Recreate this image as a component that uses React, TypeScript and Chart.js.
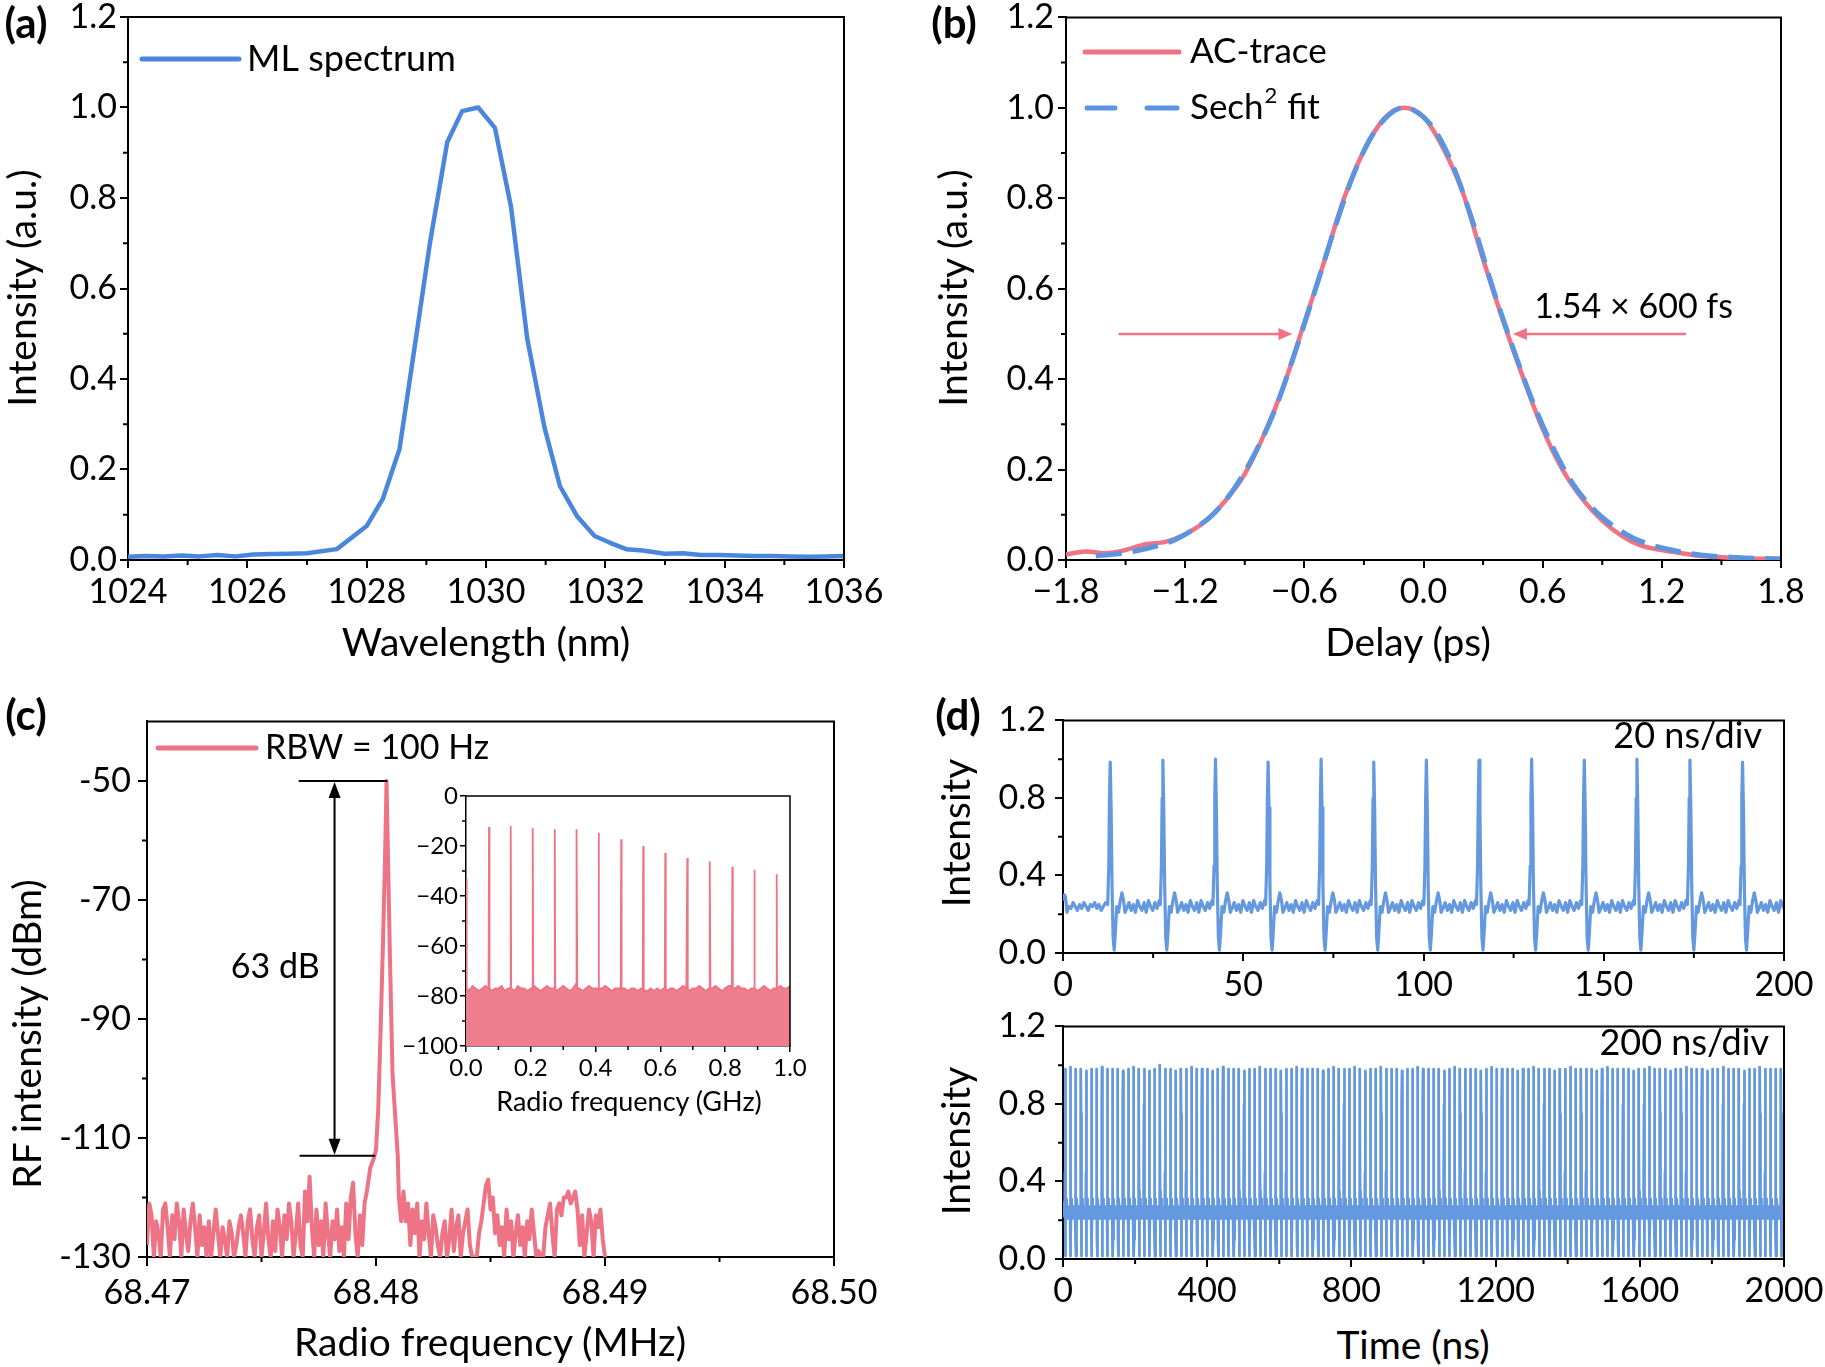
import React, { useEffect, useRef } from 'react';
import { Chart, registerables } from 'chart.js';

Chart.register(...registerables);

const FONT = 'Lato, "Noto Sans", sans-serif';
const BLUE = '#4a87dc';
const BLUE_FIT = '#5b94e0';
const BLUE_TRACE = '#6499df';
const PINK = '#ee7384';
const PINK_FILL = '#ef7e8e';

// ---------- (a) mode-locked optical spectrum ----------
const SPEC_WAVELENGTH = [
  1024, 1024.3, 1024.6, 1024.9, 1025.2, 1025.5, 1025.8, 1026.1, 1026.4, 1026.7, 1027.0, 1027.5,
  1028.0, 1028.27, 1028.55, 1028.77, 1029.06, 1029.35, 1029.6, 1029.87, 1030.15, 1030.42, 1030.69,
  1030.98, 1031.24, 1031.53, 1031.82, 1032.08, 1032.35, 1032.63, 1033.0, 1033.3, 1033.6, 1033.9,
  1034.2, 1034.5, 1034.8, 1035.1, 1035.4, 1035.7, 1036,
];
const SPEC_INTENSITY = [
  0.007, 0.009, 0.008, 0.01, 0.008, 0.011, 0.008, 0.012, 0.013, 0.014, 0.015, 0.024,
  0.075, 0.135, 0.245, 0.44, 0.7, 0.923, 0.992, 1.0, 0.955, 0.78, 0.49,
  0.293, 0.163, 0.096, 0.053, 0.038, 0.024, 0.021, 0.014, 0.015, 0.011, 0.011,
  0.01, 0.009, 0.009, 0.008, 0.007, 0.008, 0.009,
];
const SPEC_X_TICKS = [1024, 1026, 1028, 1030, 1032, 1034, 1036];
const SPEC_X_MINOR = [1025, 1027, 1029, 1031, 1033, 1035];
const UNIT_Y_TICKS = [0, 0.2, 0.4, 0.6, 0.8, 1.0, 1.2];
const UNIT_Y_MINOR = [0.1, 0.3, 0.5, 0.7, 0.9, 1.1];

// ---------- (b) autocorrelation trace and sech^2 fit ----------
const AC_DELAY = [
  -1.8, -1.7, -1.6, -1.5, -1.4, -1.3, -1.2, -1.1, -1.0, -0.9, -0.8, -0.7, -0.6, -0.5, -0.4, -0.3, -0.2, -0.1,
  0, 0.1, 0.2, 0.3, 0.4, 0.5, 0.6, 0.7, 0.8, 0.9, 1.0, 1.1, 1.2, 1.3, 1.4, 1.5, 1.6, 1.7, 1.8,
];
const AC_INTENSITY = [
  0.012, 0.019, 0.015, 0.022, 0.035, 0.04, 0.057, 0.085, 0.13, 0.19, 0.28, 0.39, 0.525, 0.66, 0.8, 0.905, 0.975, 1.0,
  0.98, 0.91, 0.81, 0.665, 0.53, 0.405, 0.29, 0.2, 0.135, 0.087, 0.053, 0.031, 0.022, 0.015, 0.009, 0.006, 0.004, 0.003, 0.003,
];
const FIT_DELAY = [
  -1.65, -1.55, -1.45, -1.35, -1.25, -1.15, -1.05, -0.95, -0.85, -0.75, -0.65, -0.55, -0.45, -0.35, -0.25, -0.15, -0.1,
  -0.05, 0.05, 0.15, 0.25, 0.35, 0.45, 0.55, 0.65, 0.75, 0.85, 0.95, 1.05, 1.15, 1.25, 1.35, 1.45, 1.55, 1.65, 1.75, 1.8,
];
const FIT_INTENSITY = [
  0.009, 0.013, 0.02, 0.03, 0.045, 0.07, 0.105, 0.16, 0.235, 0.33, 0.455, 0.59, 0.73, 0.855, 0.945, 0.993, 1.0,
  0.995, 0.955, 0.87, 0.745, 0.6, 0.47, 0.35, 0.25, 0.17, 0.115, 0.077, 0.05, 0.033, 0.022, 0.014, 0.009, 0.006, 0.004, 0.003, 0.002,
];
const DELAY_TICKS = [-1.8, -1.2, -0.6, 0, 0.6, 1.2, 1.8];
const DELAY_MINOR = [-1.5, -0.9, -0.3, 0.3, 0.9, 1.5];
const FWHM_LEVEL = 0.5;
const FWHM_ARROW_LEFT = [-1.53, -0.66]; // tail, tip
const FWHM_ARROW_RIGHT = [1.317, 0.45]; // tail, tip
const FWHM_TEXT_AT = [0.557, 0.56];

// ---------- (c) RF spectrum of the fundamental ----------
const RF_LEFT_START = 68.47;
const RF_STEP = 0.0001;
const RF_NOISE_LEFT = [
  -128, -121, -123, -130, -124, -126, -130, -122, -121, -125,
  -130, -123, -127, -121, -124, -130, -122, -126, -129, -124,
  -121, -125, -130, -123, -128, -125, -130, -124, -130, -126,
  -122, -126, -130, -125, -127, -130, -124, -126, -130, -128,
  -125, -123, -126, -130, -124, -122, -127, -130, -125, -123,
  -130, -126, -121, -127, -130, -124, -129, -122, -125, -130,
  -123, -127, -121, -124, -130, -126, -121, -128, -130, -119,
  -124, -116.5, -125, -130, -122, -128, -124, -130, -121, -126,
  -130, -124, -127, -122, -129, -125, -130, -121, -127, -120,
  -117.5, -126, -130, -123, -128, -121,
];
const RF_PEAK_FREQ = [
  68.4796, 68.47975, 68.4799, 68.48, 68.4801, 68.4802, 68.4803, 68.4804, 68.48046,
  68.4805, 68.4806, 68.48072, 68.4808, 68.4809, 68.48095, 68.481, 68.4811,
];
const RF_PEAK_LEVEL = [
  -119, -115, -113.5, -112, -105, -92, -78, -62, -50,
  -58, -78, -99, -104, -110, -113, -120, -124,
];
const RF_RIGHT_START = 68.4812;
const RF_NOISE_RIGHT = [
  -119, -124, -121, -128, -122, -126, -121, -130, -124, -127,
  -121, -126, -130, -123, -125, -128, -130, -126, -124, -130,
  -127, -122, -129, -125, -123, -130, -126, -124, -122, -128,
  -130, -130, -130, -126, -124, -121, -118, -117, -122, -120,
  -126, -123, -128, -125, -130, -122, -127, -124, -130, -126,
  -123, -128, -125, -130, -124, -127, -122, -126, -130, -129,
  -130, -130, -125, -123, -121, -126, -130, -122, -121, -123,
  -120, -120, -119, -121, -120, -119, -122, -128, -123, -130,
  -126, -122, -124, -130, -123, -125, -122, -127, -130,
];
const RF_X_TICKS = [68.47, 68.48, 68.49, 68.5];
const RF_X_MINOR = [68.475, 68.485, 68.495];
const RF_Y_TICKS = [-130, -110, -90, -70, -50];
const RF_Y_MINOR = [-120, -100, -80, -60];
const RF_CARRIER = -50;
const RF_SNR = 63;
const RF_MARK_TOP = [68.47666, 68.48046];
const RF_MARK_BOTTOM = [68.4767, 68.47993];
const RF_ARROW_FREQ = 68.47819;
const RF_SNR_TEXT_AT = [68.4756, -81.2];

// ---------- (c) inset: wide-span RF comb ----------
const COMB_FLOOR = [
  -77, -78, -76, -77, -78, -77, -76, -77, -78, -77,
  -77, -76, -78, -77, -77, -78, -76, -77, -77, -78,
  -77, -76, -77, -78, -77, -76, -77, -77, -78, -77,
  -76, -77, -78, -77, -75, -77, -78, -77, -76, -77,
  -77, -78, -77, -76, -77, -78, -77, -77, -76, -77,
  -78, -77, -77, -78, -77, -78, -78, -77, -78, -77,
  -78, -77, -78, -77, -77, -78, -77, -76, -77, -78,
  -77, -77, -76, -77, -78, -77, -77, -76, -77, -78,
  -77, -76, -76, -77, -76, -77, -77, -78, -77, -77,
  -78, -77, -76, -77, -78, -77, -77, -76, -77, -77, -76,
];
const COMB_FLOOR_STEP = 0.01;
const COMB_FREQ = [0.071, 0.138, 0.206, 0.274, 0.342, 0.41, 0.479, 0.547, 0.615, 0.683, 0.753, 0.822, 0.89, 0.959];
const COMB_PEAK = [-12.4, -12, -12.9, -13.3, -13.3, -14.7, -17.3, -20, -22.8, -24.8, -26.1, -28.3, -29.5, -31.3];
const COMB_DC = [0.002, -33];
const COMB_X_TICKS = [0, 0.2, 0.4, 0.6, 0.8, 1.0];
const COMB_X_MINOR = [0.1, 0.3, 0.5, 0.7, 0.9];
const COMB_Y_TICKS = [-100, -80, -60, -40, -20, 0];
const COMB_Y_MINOR = [-90, -70, -50, -30, -10];

// ---------- (d) oscilloscope pulse trains ----------
const PULSE_DT = [
  -0.7, -0.4, -0.2, 0, 0.25, 0.5, 0.8, 1.1, 1.4, 1.8, 2.3, 2.8, 3.25, 3.7, 4.1, 4.6,
  5.2, 5.8, 6.4, 7.0, 7.6, 8.2, 8.8, 9.4, 10.0, 10.6, 11.2, 11.8, 12.4, 13.0, 13.6,
];
// null marks the pulse maximum, taken from the per-pulse height list
const PULSE_LEVEL: (number | null)[] = [
  0.25, 0.45, 0.8, null, 0.75, 0.35, 0.08, 0.015, 0.1, 0.24, 0.21, 0.27, 0.31, 0.27, 0.21, 0.23,
  0.26, 0.22, 0.25, 0.21, 0.27, 0.24, 0.22, 0.26, 0.21, 0.27, 0.24, 0.22, 0.26, 0.23, 0.27,
];
const SHORT_LEAD_T = [0, 0.35, 0.7, 1.1, 1.6, 2.2, 2.8, 3.4, 4.0, 4.6, 5.2, 5.8, 6.4, 7.0, 7.6, 8.2, 8.8, 9.4, 10.0, 10.6, 11.2, 11.8];
const SHORT_LEAD_V = [0.27, 0.3, 0.29, 0.21, 0.24, 0.23, 0.26, 0.24, 0.22, 0.25, 0.23, 0.26, 0.24, 0.22, 0.25, 0.24, 0.26, 0.23, 0.25, 0.22, 0.24, 0.26];
const SHORT_PULSE_T = [13.1, 27.7, 42.3, 56.9, 71.6, 86.2, 100.8, 115.4, 130.0, 144.6, 159.2, 173.9, 188.5];
const SHORT_PULSE_H = [0.985, 0.995, 1.0, 0.985, 1.0, 0.985, 0.995, 0.995, 1.0, 0.995, 1.0, 0.995, 0.985];
const LONG_LEAD_T = [0, 1.5, 3.0, 4.5];
const LONG_LEAD_V = [0.24, 0.29, 0.22, 0.25];
const LONG_FIRST_PULSE = 6;
const LONG_PERIOD = 14.6; // ns, 68.48 MHz repetition rate
const LONG_PULSE_H = [
  0.98, 0.99, 0.98, 0.98, 0.97, 0.98, 0.98, 0.99, 0.98, 0.98, 0.98, 0.97, 0.98, 0.99, 0.98, 0.98, 0.97, 0.98, 1.0, 0.98,
  0.98, 0.97, 0.98, 0.98, 0.99, 0.98, 0.98, 0.98, 0.97, 0.98, 0.99, 0.98, 0.98, 0.98, 0.97, 0.98, 0.98, 0.99, 0.98, 0.98,
  0.98, 0.97, 0.98, 0.98, 0.99, 0.98, 0.98, 0.98, 0.98, 0.97, 0.98, 0.99, 0.98, 0.98, 0.98, 0.99, 0.98, 0.97, 0.98, 0.98,
  0.99, 0.98, 0.98, 0.98, 0.97, 0.98, 0.98, 0.99, 0.98, 0.98, 0.98, 0.98, 0.97, 0.98, 0.99, 0.98, 0.98, 0.98, 0.98, 0.97,
  0.98, 0.99, 0.98, 0.98, 0.98, 0.98, 0.97, 0.98, 0.98, 0.99, 0.98, 0.98, 0.98, 0.97, 0.98, 0.98, 0.99, 0.98, 0.98, 0.98,
  0.98, 0.97, 0.98, 0.99, 0.98, 0.98, 0.98, 0.98, 0.97, 0.98, 0.98, 0.99, 0.98, 0.98, 0.98, 0.97, 0.98, 0.98, 0.99, 0.98,
  0.98, 0.98, 0.97, 0.98, 0.98, 0.99, 0.98, 0.98, 0.98, 0.97, 0.98, 0.98, 0.99, 0.98, 0.98, 0.98, 0.98,
];
const SHORT_X_TICKS = [0, 50, 100, 150, 200];
const SHORT_X_MINOR = [25, 75, 125, 175];
const LONG_X_TICKS = [0, 400, 800, 1200, 1600, 2000];
const LONG_X_MINOR = [200, 600, 1000, 1400, 1800];
const SCOPE_Y_TICKS = [0, 0.4, 0.8, 1.2];
const SCOPE_Y_MINOR = [0.2, 0.6, 1.0];

// ---------- helpers ----------
type Pt = { x: number; y: number };
type Rect = { L: number; R: number; T: number; B: number };
type Geo = {
  rect: Rect; yW: number; xH: number; padT: number; padR: number;
  font: number; tickLen: number; minorLen: number; lw: number; xPad: number; yPad: number;
};
type Box = { left: number; top: number; width: number; height: number };
type Axis = { min: number; max: number; major: number[]; minor: number[]; fmt: (v: number) => string };
type Extra = (ctx: CanvasRenderingContext2D, chart: any, P: (x: number, y: number) => [number, number]) => void;

const zip = (xs: number[], ys: number[]): Pt[] => xs.map((x, i) => ({ x, y: ys[i] }));
const clean = (v: number) => (Math.abs(v) < 1e-9 ? 0 : v);
const fix1 = (v: number) => clean(v).toFixed(1);
const fix1Minus = (v: number) => fix1(v).replace('-', '\u2212');
const fix2 = (v: number) => v.toFixed(2);
const whole = (v: number) => String(Math.round(v));
const wholeMinus = (v: number) => (Math.round(v) === 0 ? '0' : whole(v).replace('-', '\u2212'));

function boxOf(g: Geo): Box {
  const left = g.rect.L - g.yW;
  const top = g.rect.T - g.padT;
  return { left, top, width: g.rect.R + g.padR - left, height: g.rect.B + g.xH - top };
}

function scaleOpts(a: Axis, isX: boolean, g: Geo) {
  return {
    type: 'linear',
    position: isX ? 'bottom' : 'left',
    min: a.min,
    max: a.max,
    afterBuildTicks: (s: any) => { s.ticks = a.major.map((value) => ({ value })); },
    afterFit: (s: any) => { if (isX) s.height = g.xH; else s.width = g.yW; },
    ticks: {
      autoSkip: false, maxRotation: 0, minRotation: 0,
      padding: isX ? g.xPad : g.yPad,
      color: '#000',
      font: { family: FONT, size: g.font },
      callback: (v: any) => a.fmt(Number(v)),
    },
    grid: {
      drawOnChartArea: false, drawTicks: true, tickLength: g.tickLen,
      tickWidth: g.lw, tickColor: '#000', color: '#000', lineWidth: g.lw,
    },
    border: { display: true, color: '#000', width: g.lw },
  };
}

function decor(g: Geo, box: Box, x: Axis, y: Axis, extra?: Extra) {
  return {
    id: 'decor',
    afterDraw(chart: any) {
      const { ctx, chartArea: a, scales } = chart;
      ctx.save();
      ctx.strokeStyle = '#000';
      ctx.lineWidth = g.lw;
      ctx.beginPath();
      ctx.moveTo(a.left - g.lw / 2, a.top);
      ctx.lineTo(a.right, a.top);
      ctx.lineTo(a.right, a.bottom + g.lw / 2);
      for (const v of x.minor) {
        const px = scales.x.getPixelForValue(v);
        ctx.moveTo(px, a.bottom);
        ctx.lineTo(px, a.bottom + g.minorLen);
      }
      for (const v of y.minor) {
        const py = scales.y.getPixelForValue(v);
        ctx.moveTo(a.left, py);
        ctx.lineTo(a.left - g.minorLen, py);
      }
      ctx.stroke();
      ctx.restore();
      if (extra) {
        ctx.save();
        extra(ctx, chart, (px, py) => [px - box.left, py - box.top]);
        ctx.restore();
      }
    },
  };
}

function makeConfig(g: Geo, x: Axis, y: Axis, datasets: any[], extra?: Extra) {
  const box = boxOf(g);
  return {
    type: 'line',
    data: { datasets },
    options: {
      responsive: false,
      animation: false,
      events: [],
      parsing: false,
      layout: { padding: { left: 0, top: g.padT, right: g.padR, bottom: 0 } },
      plugins: { legend: { display: false }, tooltip: { enabled: false }, title: { display: false } },
      elements: { point: { radius: 0 } },
      scales: { x: scaleOpts(x, true, g), y: scaleOpts(y, false, g) },
    },
    plugins: [decor(g, box, x, y, extra)],
  } as any;
}

function drawText(ctx: CanvasRenderingContext2D, s: string, x: number, y: number, size: number, align: CanvasTextAlign = 'left') {
  ctx.font = `${size}px ${FONT}`;
  ctx.fillStyle = '#000';
  ctx.textAlign = align;
  ctx.textBaseline = 'middle';
  ctx.fillText(s, x, y);
}

function legendLine(ctx: CanvasRenderingContext2D, x0: number, x1: number, y: number, color: string, width: number) {
  ctx.strokeStyle = color;
  ctx.lineWidth = width;
  ctx.lineCap = 'round';
  ctx.beginPath();
  ctx.moveTo(x0, y);
  ctx.lineTo(x1, y);
  ctx.stroke();
}

function arrowHead(ctx: CanvasRenderingContext2D, tx: number, ty: number, dx: number, dy: number, len: number, half: number) {
  const bx = tx - dx * len;
  const by = ty - dy * len;
  ctx.beginPath();
  ctx.moveTo(tx, ty);
  ctx.lineTo(bx - dy * half, by + dx * half);
  ctx.lineTo(bx + dy * half, by - dx * half);
  ctx.closePath();
  ctx.fill();
}

function pulseTrain(lead: Pt[], times: number[], heights: number[]): Pt[] {
  const pts = [...lead];
  times.forEach((t0, k) => {
    PULSE_DT.forEach((dt, j) => {
      const lvl = PULSE_LEVEL[j];
      pts.push({ x: t0 + dt, y: lvl === null ? heights[k] : lvl });
    });
  });
  return pts;
}

// ---------- panel geometry ----------
const TICK_FONT = 34;
const GEO_A: Geo = { rect: { L: 128, R: 844, T: 17, B: 560 }, yW: 100, xH: 64, padT: 24, padR: 48, font: TICK_FONT, tickLen: 8, minorLen: 5, lw: 2, xPad: 4, yPad: 3 };
const GEO_B: Geo = { rect: { L: 1066, R: 1781, T: 17, B: 560 }, yW: 100, xH: 64, padT: 24, padR: 44, font: TICK_FONT, tickLen: 8, minorLen: 5, lw: 2, xPad: 4, yPad: 4 };
const GEO_C: Geo = { rect: { L: 147, R: 834, T: 718, B: 1257 }, yW: 110, xH: 64, padT: 24, padR: 56, font: TICK_FONT, tickLen: 9, minorLen: 5, lw: 2, xPad: 7, yPad: 7 };
const GEO_INSET: Geo = { rect: { L: 466, R: 790, T: 796, B: 1046 }, yW: 72, xH: 40, padT: 17, padR: 26, font: 24, tickLen: 6, minorLen: 4, lw: 1.5, xPad: 2, yPad: 2 };
const GEO_D1: Geo = { rect: { L: 1063, R: 1784, T: 715, B: 953 }, yW: 110, xH: 60, padT: 24, padR: 50, font: TICK_FONT, tickLen: 8, minorLen: 5, lw: 2, xPad: 4, yPad: 9 };
const GEO_D2: Geo = { rect: { L: 1063, R: 1784, T: 1021, B: 1259 }, yW: 110, xH: 60, padT: 24, padR: 50, font: TICK_FONT, tickLen: 8, minorLen: 5, lw: 2, xPad: 4, yPad: 9 };

// ---------- chart builders ----------
function spectrumConfig() {
  const x: Axis = { min: 1024, max: 1036, major: SPEC_X_TICKS, minor: SPEC_X_MINOR, fmt: whole };
  const y: Axis = { min: 0, max: 1.2, major: UNIT_Y_TICKS, minor: UNIT_Y_MINOR, fmt: fix1 };
  return makeConfig(GEO_A, x, y, [
    { data: zip(SPEC_WAVELENGTH, SPEC_INTENSITY), borderColor: BLUE, borderWidth: 4.5, tension: 0, borderJoinStyle: 'round' },
  ], (ctx, _c, P) => {
    const [x0, y0] = P(142, 59);
    const [x1] = P(239, 59);
    legendLine(ctx, x0, x1, y0, BLUE, 5);
    const [tx] = P(247, 59);
    drawText(ctx, 'ML spectrum', tx, y0, 36);
  });
}

function autocorrConfig() {
  const x: Axis = { min: -1.8, max: 1.8, major: DELAY_TICKS, minor: DELAY_MINOR, fmt: fix1Minus };
  const y: Axis = { min: 0, max: 1.2, major: UNIT_Y_TICKS, minor: UNIT_Y_MINOR, fmt: fix1 };
  return makeConfig(GEO_B, x, y, [
    { data: zip(FIT_DELAY, FIT_INTENSITY), borderColor: BLUE_FIT, borderWidth: 5, borderDash: [26, 11], tension: 0.4, cubicInterpolationMode: 'monotone' },
    { data: zip(AC_DELAY, AC_INTENSITY), borderColor: PINK, borderWidth: 4.5, tension: 0.4, cubicInterpolationMode: 'monotone' },
  ], (ctx, chart, P) => {
    const [ax0, ay0] = P(1085, 52);
    const [ax1] = P(1179, 52);
    legendLine(ctx, ax0, ax1, ay0, PINK, 5);
    const [tx] = P(1190, 52);
    drawText(ctx, 'AC-trace', tx, ay0, 35);
    const [, by] = P(1085, 108);
    const [d0] = P(1087, 108);
    const [d1] = P(1115, 108);
    const [d2] = P(1147, 108);
    const [d3] = P(1177, 108);
    legendLine(ctx, d0, d1, by, BLUE_FIT, 5);
    legendLine(ctx, d2, d3, by, BLUE_FIT, 5);
    drawText(ctx, 'Sech', tx, by, 35);
    ctx.font = `35px ${FONT}`;
    const w1 = ctx.measureText('Sech').width;
    drawText(ctx, '2', tx + w1 + 1, by - 12, 22);
    ctx.font = `22px ${FONT}`;
    const w2 = ctx.measureText('2').width;
    drawText(ctx, ' fit', tx + w1 + w2 + 2, by, 35);

    const sx = chart.scales.x;
    const sy = chart.scales.y;
    const yl = sy.getPixelForValue(FWHM_LEVEL);
    ctx.strokeStyle = PINK;
    ctx.fillStyle = PINK;
    ctx.lineWidth = 2.5;
    const head = 14;
    for (const [tail, tip] of [FWHM_ARROW_LEFT, FWHM_ARROW_RIGHT]) {
      const xt = sx.getPixelForValue(tail);
      const xp = sx.getPixelForValue(tip);
      const dir = Math.sign(xp - xt);
      ctx.beginPath();
      ctx.moveTo(xt, yl);
      ctx.lineTo(xp - dir * head * 0.8, yl);
      ctx.stroke();
      arrowHead(ctx, xp, yl, dir, 0, head, 6);
    }
    drawText(ctx, '1.54 \u00d7 600 fs', sx.getPixelForValue(FWHM_TEXT_AT[0]), sy.getPixelForValue(FWHM_TEXT_AT[1]), 34);
  });
}

function rfConfig() {
  const left = RF_NOISE_LEFT.map((v, i) => ({ x: RF_LEFT_START + i * RF_STEP, y: v }));
  const right = RF_NOISE_RIGHT.map((v, i) => ({ x: RF_RIGHT_START + i * RF_STEP, y: v }));
  const data = [...left, ...zip(RF_PEAK_FREQ, RF_PEAK_LEVEL), ...right];
  const x: Axis = { min: 68.47, max: 68.5, major: RF_X_TICKS, minor: RF_X_MINOR, fmt: fix2 };
  const y: Axis = { min: -130, max: -40, major: RF_Y_TICKS, minor: RF_Y_MINOR, fmt: whole };
  return makeConfig(GEO_C, x, y, [
    { data, borderColor: PINK, borderWidth: 4, tension: 0, borderJoinStyle: 'round' },
  ], (ctx, chart, P) => {
    const [lx0, ly] = P(158, 748);
    const [lx1] = P(256, 748);
    legendLine(ctx, lx0, lx1, ly, PINK, 5);
    const [tx] = P(265, 748);
    drawText(ctx, 'RBW = 100 Hz', tx, ly, 34);

    const sx = chart.scales.x;
    const sy = chart.scales.y;
    const yTop = sy.getPixelForValue(RF_CARRIER);
    const yBot = sy.getPixelForValue(RF_CARRIER - RF_SNR);
    ctx.strokeStyle = '#000';
    ctx.fillStyle = '#000';
    ctx.lineWidth = 2;
    ctx.beginPath();
    ctx.moveTo(sx.getPixelForValue(RF_MARK_TOP[0]), yTop);
    ctx.lineTo(sx.getPixelForValue(RF_MARK_TOP[1]), yTop);
    ctx.moveTo(sx.getPixelForValue(RF_MARK_BOTTOM[0]), yBot);
    ctx.lineTo(sx.getPixelForValue(RF_MARK_BOTTOM[1]), yBot);
    const xa = sx.getPixelForValue(RF_ARROW_FREQ);
    ctx.moveTo(xa, yTop + 12);
    ctx.lineTo(xa, yBot - 12);
    ctx.stroke();
    arrowHead(ctx, xa, yTop + 1, 0, -1, 16, 6);
    arrowHead(ctx, xa, yBot - 1, 0, 1, 16, 6);
    drawText(ctx, `${RF_SNR} dB`, sx.getPixelForValue(RF_SNR_TEXT_AT[0]), sy.getPixelForValue(RF_SNR_TEXT_AT[1]), 34, 'center');
  });
}

function combConfig() {
  const pts: Pt[] = COMB_FLOOR.map((v, i) => ({ x: i * COMB_FLOOR_STEP, y: v }));
  pts.push({ x: COMB_DC[0] - 0.001, y: -77 }, { x: COMB_DC[0], y: COMB_DC[1] }, { x: COMB_DC[0] + 0.001, y: -77 });
  COMB_FREQ.forEach((f, k) => {
    pts.push({ x: f - 0.0015, y: -77 }, { x: f, y: COMB_PEAK[k] }, { x: f + 0.0015, y: -77 });
  });
  pts.sort((a, b) => a.x - b.x);
  const x: Axis = { min: 0, max: 1, major: COMB_X_TICKS, minor: COMB_X_MINOR, fmt: fix1 };
  const y: Axis = { min: -100, max: 0, major: COMB_Y_TICKS, minor: COMB_Y_MINOR, fmt: wholeMinus };
  return makeConfig(GEO_INSET, x, y, [
    { data: pts, borderColor: PINK, borderWidth: 1.8, tension: 0, fill: 'start', backgroundColor: PINK_FILL },
  ]);
}

function scopeConfig(g: Geo, data: Pt[], xMax: number, xMajor: number[], xMinor: number[], lw: number, note: string, noteAt: [number, number]) {
  const x: Axis = { min: 0, max: xMax, major: xMajor, minor: xMinor, fmt: whole };
  const y: Axis = { min: 0, max: 1.2, major: SCOPE_Y_TICKS, minor: SCOPE_Y_MINOR, fmt: fix1 };
  return makeConfig(g, x, y, [
    { data, borderColor: BLUE_TRACE, borderWidth: lw, tension: 0, borderJoinStyle: 'round' },
  ], (ctx, _c, P) => {
    const [nx, ny] = P(noteAt[0], noteAt[1]);
    drawText(ctx, note, nx, ny, 36, 'right');
  });
}

function shortTraceConfig() {
  const data = pulseTrain(zip(SHORT_LEAD_T, SHORT_LEAD_V), SHORT_PULSE_T, SHORT_PULSE_H);
  return scopeConfig(GEO_D1, data, 200, SHORT_X_TICKS, SHORT_X_MINOR, 3.2, '20 ns/div', [1762, 736]);
}

function longTraceConfig() {
  const times = LONG_PULSE_H.map((_, k) => LONG_FIRST_PULSE + k * LONG_PERIOD);
  const data = pulseTrain(zip(LONG_LEAD_T, LONG_LEAD_V), times, LONG_PULSE_H);
  return scopeConfig(GEO_D2, data, 2000, LONG_X_TICKS, LONG_X_MINOR, 2.8, '200 ns/div', [1769, 1043]);
}

// ---------- components ----------
function ChartPanel({ geo, build }: { geo: Geo; build: () => any }) {
  const ref = useRef<HTMLCanvasElement>(null);
  const box = boxOf(geo);
  useEffect(() => {
    if (!ref.current) return;
    const chart = new Chart(ref.current, build());
    return () => chart.destroy();
  }, []);
  return (
    <canvas
      ref={ref}
      width={box.width}
      height={box.height}
      style={{ position: 'absolute', left: box.left, top: box.top, width: box.width, height: box.height }}
    />
  );
}

function Label({ x, y, size = 39, rotate = false, bold = false, children }: { x: number; y: number; size?: number; rotate?: boolean; bold?: boolean; children: React.ReactNode }) {
  return (
    <div
      style={{
        position: 'absolute', left: x, top: y,
        transform: `translate(-50%, -50%)${rotate ? ' rotate(-90deg)' : ''}`,
        fontFamily: FONT, fontSize: size, fontWeight: bold ? 700 : 400,
        lineHeight: 1, whiteSpace: 'nowrap', color: '#000', pointerEvents: 'none',
      }}
    >
      {children}
    </div>
  );
}

export default function App() {
  return (
    <div style={{ position: 'absolute', left: 0, top: 0, width: 1825, height: 1367, background: '#fff', overflow: 'hidden' }}>
      <ChartPanel geo={GEO_A} build={spectrumConfig} />
      <ChartPanel geo={GEO_B} build={autocorrConfig} />
      <ChartPanel geo={GEO_C} build={rfConfig} />
      <ChartPanel geo={GEO_INSET} build={combConfig} />
      <ChartPanel geo={GEO_D1} build={shortTraceConfig} />
      <ChartPanel geo={GEO_D2} build={longTraceConfig} />

      <Label x={26} y={22} size={42} bold>(a)</Label>
      <Label x={954} y={22} size={42} bold>(b)</Label>
      <Label x={26} y={714} size={42} bold>(c)</Label>
      <Label x={958} y={714} size={42} bold>(d)</Label>

      <Label x={486} y={641}>Wavelength (nm)</Label>
      <Label x={21} y={288} rotate>Intensity (a.u.)</Label>
      <Label x={1408} y={641}>Delay (ps)</Label>
      <Label x={952} y={288} rotate>Intensity (a.u.)</Label>
      <Label x={490} y={1341}>Radio frequency (MHz)</Label>
      <Label x={26} y={1034} rotate>RF intensity (dBm)</Label>
      <Label x={629} y={1100} size={27}>Radio frequency (GHz)</Label>
      <Label x={955} y={833} rotate>Intensity</Label>
      <Label x={955} y={1141} rotate>Intensity</Label>
      <Label x={1413} y={1344}>Time (ns)</Label>
    </div>
  );
}
